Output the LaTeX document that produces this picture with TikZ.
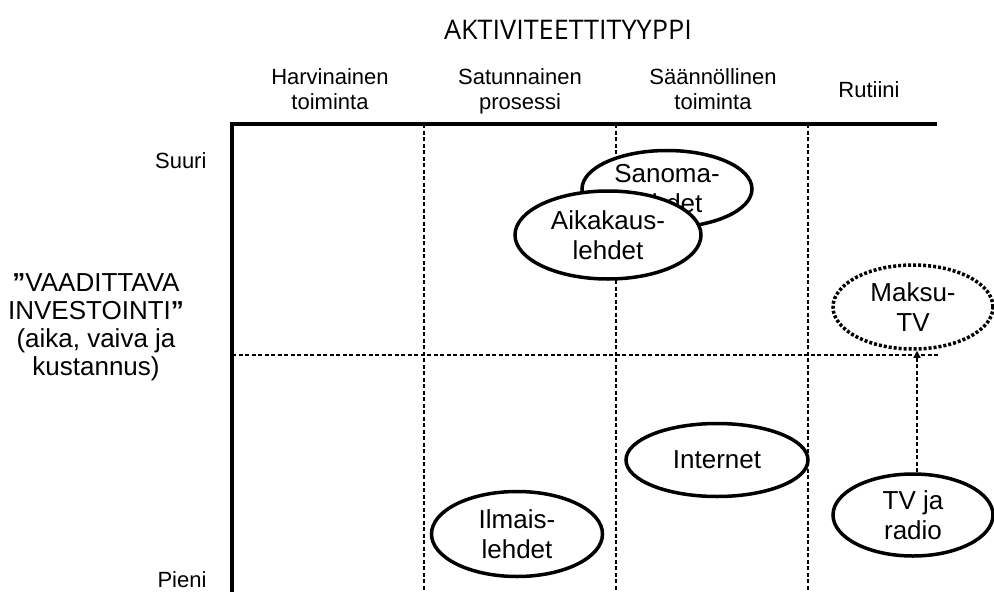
\documentclass[tikz,border=0pt]{standalone}
\usepackage{fontspec}
\setmainfont{Liberation Sans}
\newfontfamily\titlefont{Open Sans}
\usetikzlibrary{arrows.meta,shapes.geometric}
\begin{document}
\begin{tikzpicture}[x=1pt,y=-1pt,
  grid/.style={line width=1.3pt,dash pattern=on 4pt off 2.5pt},
  axis/.style={line width=4pt},
  blob/.style={ellipse,draw,line width=3.5pt,fill=white,inner sep=0pt,align=center,
    font=\fontsize{26}{30}\selectfont},
  collabel/.style={align=center,anchor=base,font=\fontsize{22}{25}\selectfont},
  ylabel/.style={anchor=base east,font=\fontsize{22}{25}\selectfont}]
\useasboundingbox (0,0) rectangle (994,592);
% title
\node[anchor=base,font=\titlefont\fontsize{27}{30}\selectfont] (title) at (568,39) {AKTIVITEETTITYYPPI};
% column labels
\node[collabel] (c1) at (330,109) {Harvinainen\\toiminta};
\node[collabel] (c2) at (520,109) {Satunnainen\\prosessi};
\node[collabel] (c3) at (713,109) {Säännöllinen\\toiminta};
\node[collabel] (c4) at (869,97) {Rutiini};
% axes
\coordinate (tl) at (232,124);
\coordinate (tr) at (937,124);
\coordinate (bl) at (232,596);
\coordinate (g1t) at (424,124); \coordinate (g1b) at (424,596);
\coordinate (g2t) at (616,124); \coordinate (g2b) at (616,596);
\coordinate (g3t) at (808,124); \coordinate (g3b) at (808,596);
\coordinate (hl) at (232,355); \coordinate (hr) at (940,355);
\draw[grid] (g1t) -- (g1b);
\draw[grid] (g2t) -- (g2b);
\draw[grid] (g3t) -- (g3b);
\draw[grid] (hl) -- (hr);
\draw[axis] (tr) -- (tl) -- (bl);
% y labels
\node[ylabel] (suuri) at (210,168) {Suuri};
\node[ylabel] (pieni) at (210,587) {Pieni};
\node[align=center,anchor=base,font=\fontsize{26}{28}\selectfont] (vi) at (96,375)
  {\textbf{”}VAADITTAVA\\INVESTOINTI\textbf{”}\\(aika, vaiva ja\\kustannus)};
% ellipses
\node[blob,minimum width=170pt,minimum height=77pt] (sanoma) at (667,189) {Sanoma-\\lehdet};
\node[blob,minimum width=186pt,minimum height=88pt] (aika) at (608,235) {Aikakaus-\\lehdet};
\node[blob,minimum width=160pt,minimum height=84pt,dash pattern=on 3pt off 2pt] (maksu) at (913,307) {Maksu-\\TV};
\node[blob,minimum width=182pt,minimum height=73pt] (internet) at (717,460) {Internet};
\node[blob,minimum width=160pt,minimum height=82pt] (tv) at (913,515) {TV ja\\radio};
\node[blob,minimum width=171pt,minimum height=85pt] (ilmais) at (517,534) {Ilmais-\\lehdet};
% arrow
\draw[grid,-{Triangle[width=7pt,length=7pt]}] (tv.north) ++(4,0) coordinate (ta) (ta) -- (ta |- maksu.south);
\end{tikzpicture}
\end{document}
